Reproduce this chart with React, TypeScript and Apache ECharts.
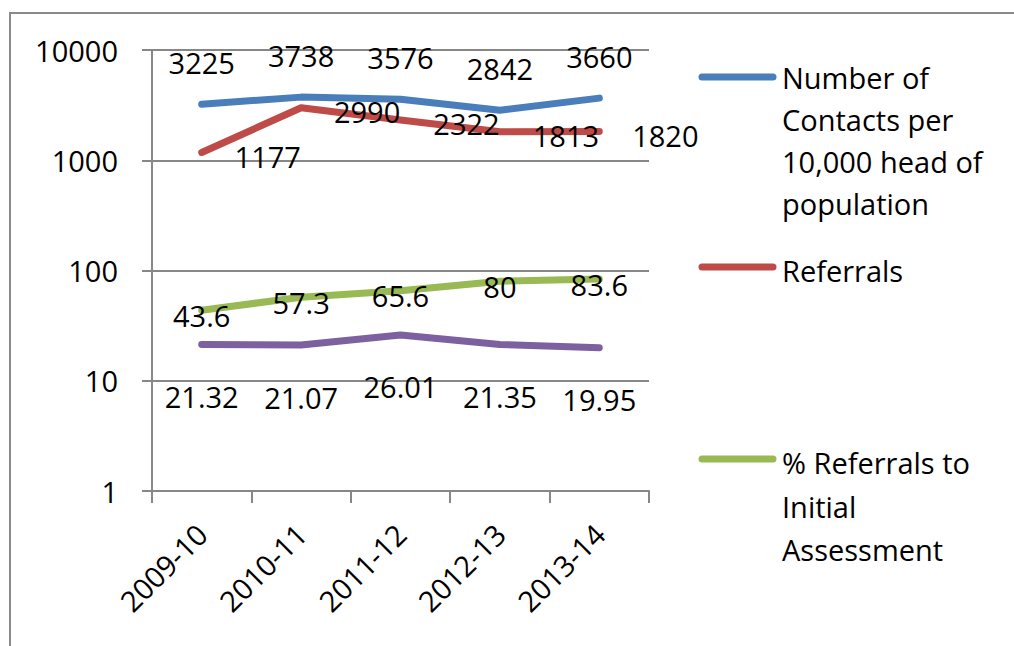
import React, { useEffect, useRef } from "react";
import * as echarts from "echarts";

const categories = ["2009-10", "2010-11", "2011-12", "2012-13", "2013-14"];
const contacts = [3225, 3738, 3576, 2842, 3660];
const referrals = [1177, 2990, 2322, 1813, 1820];
const pctInitial = [43.6, 57.3, 65.6, 80, 83.6];
const fourthSeries = [21.32, 21.07, 26.01, 21.35, 19.95];

const seriesNames = [
  "Number of Contacts per 10,000 head of population",
  "Referrals",
  "% Referrals to Initial Assessment",
  "",
];
const legendLines = [
  ["Number of", "Contacts per", "10,000 head of", "population"],
  ["Referrals"],
  ["% Referrals to", "Initial", "Assessment"],
];

const COLORS = ["#4A7EBB", "#BE4B48", "#98B954", "#7D60A0"];
const FONT = "Open Sans";
const FS = 29;
const GRID = "#878787";

export default function App() {
  const ref = useRef<HTMLDivElement>(null);
  useEffect(() => {
    document.body.style.margin = "0";
    const chart = echarts.init(ref.current!, null, { renderer: "svg" });
    const mkSeries = (name: string, data: number[], color: string, offset: number[]) => ({
      name,
      type: "line",
      data,
      symbol: "circle",
      symbolSize: 0.01,
      showSymbol: true,
      lineStyle: { color, width: 7, cap: "round", join: "round" },
      itemStyle: { color },
      label: {
        show: true,
        position: "inside",
        offset,
        color: "#000",
        fontFamily: FONT,
        fontSize: FS,
      },
    });
    const legendY = [77, 267, 459];
    const legendTextY = [56, 249, 441];
    const legendLH = [42, 42, 43.5];
    const graphic: any[] = [
      {
        type: "rect",
        shape: { x: 10, y: 13, width: 1200, height: 900 },
        style: { fill: "none", stroke: "#8a8a8a", lineWidth: 2 },
        silent: true,
      },
    ];
    legendLines.forEach((lines, i) => {
      graphic.push({
        type: "line",
        shape: { x1: 702, y1: legendY[i], x2: 773, y2: legendY[i] },
        style: { stroke: COLORS[i], lineWidth: 7, lineCap: "round" },
      });
      graphic.push({
        type: "text",
        x: 782,
        y: legendTextY[i],
        style: {
          text: lines.join("\n"),
          fill: "#000",
          font: `${FS}px "${FONT}"`,
          lineHeight: legendLH[i],
          verticalAlign: "top",
          align: "left",
        },
      });
    });
    chart.setOption({
      animation: false,
      backgroundColor: "#fff",
      grid: { left: 152, right: 365, top: 50, bottom: 155 },
      xAxis: {
        type: "category",
        data: categories,
        boundaryGap: true,
        axisLine: { lineStyle: { color: GRID, width: 2 } },
        axisTick: { show: true, length: 12, lineStyle: { color: GRID, width: 2 } },
        axisLabel: {
          rotate: 45,
          margin: 38,
          color: "#000",
          fontFamily: FONT,
          fontSize: FS,
        },
      },
      yAxis: {
        type: "log",
        logBase: 10,
        min: 1,
        max: 10000,
        axisLine: { show: true, lineStyle: { color: GRID, width: 2 } },
        axisTick: { show: true, length: 10, lineStyle: { color: GRID, width: 2 } },
        splitLine: { show: true, lineStyle: { color: GRID, width: 2 } },
        minorTick: { show: false },
        axisLabel: {
          margin: 34,
          color: "#000",
          fontFamily: FONT,
          fontSize: FS,
          formatter: (v: number) => String(Math.round(v)),
        },
      },
      graphic,
      series: [
        mkSeries(seriesNames[0], contacts, COLORS[0], [0, -42]),
        mkSeries(seriesNames[1], referrals, COLORS[1], [66, 4]),
        mkSeries(seriesNames[2], pctInitial, COLORS[2], [0, 5]),
        mkSeries(seriesNames[3], fourthSeries, COLORS[3], [0, 52]),
      ],
    });
    return () => chart.dispose();
  }, []);
  return <div ref={ref} style={{ width: 1014, height: 646 }} />;
}
